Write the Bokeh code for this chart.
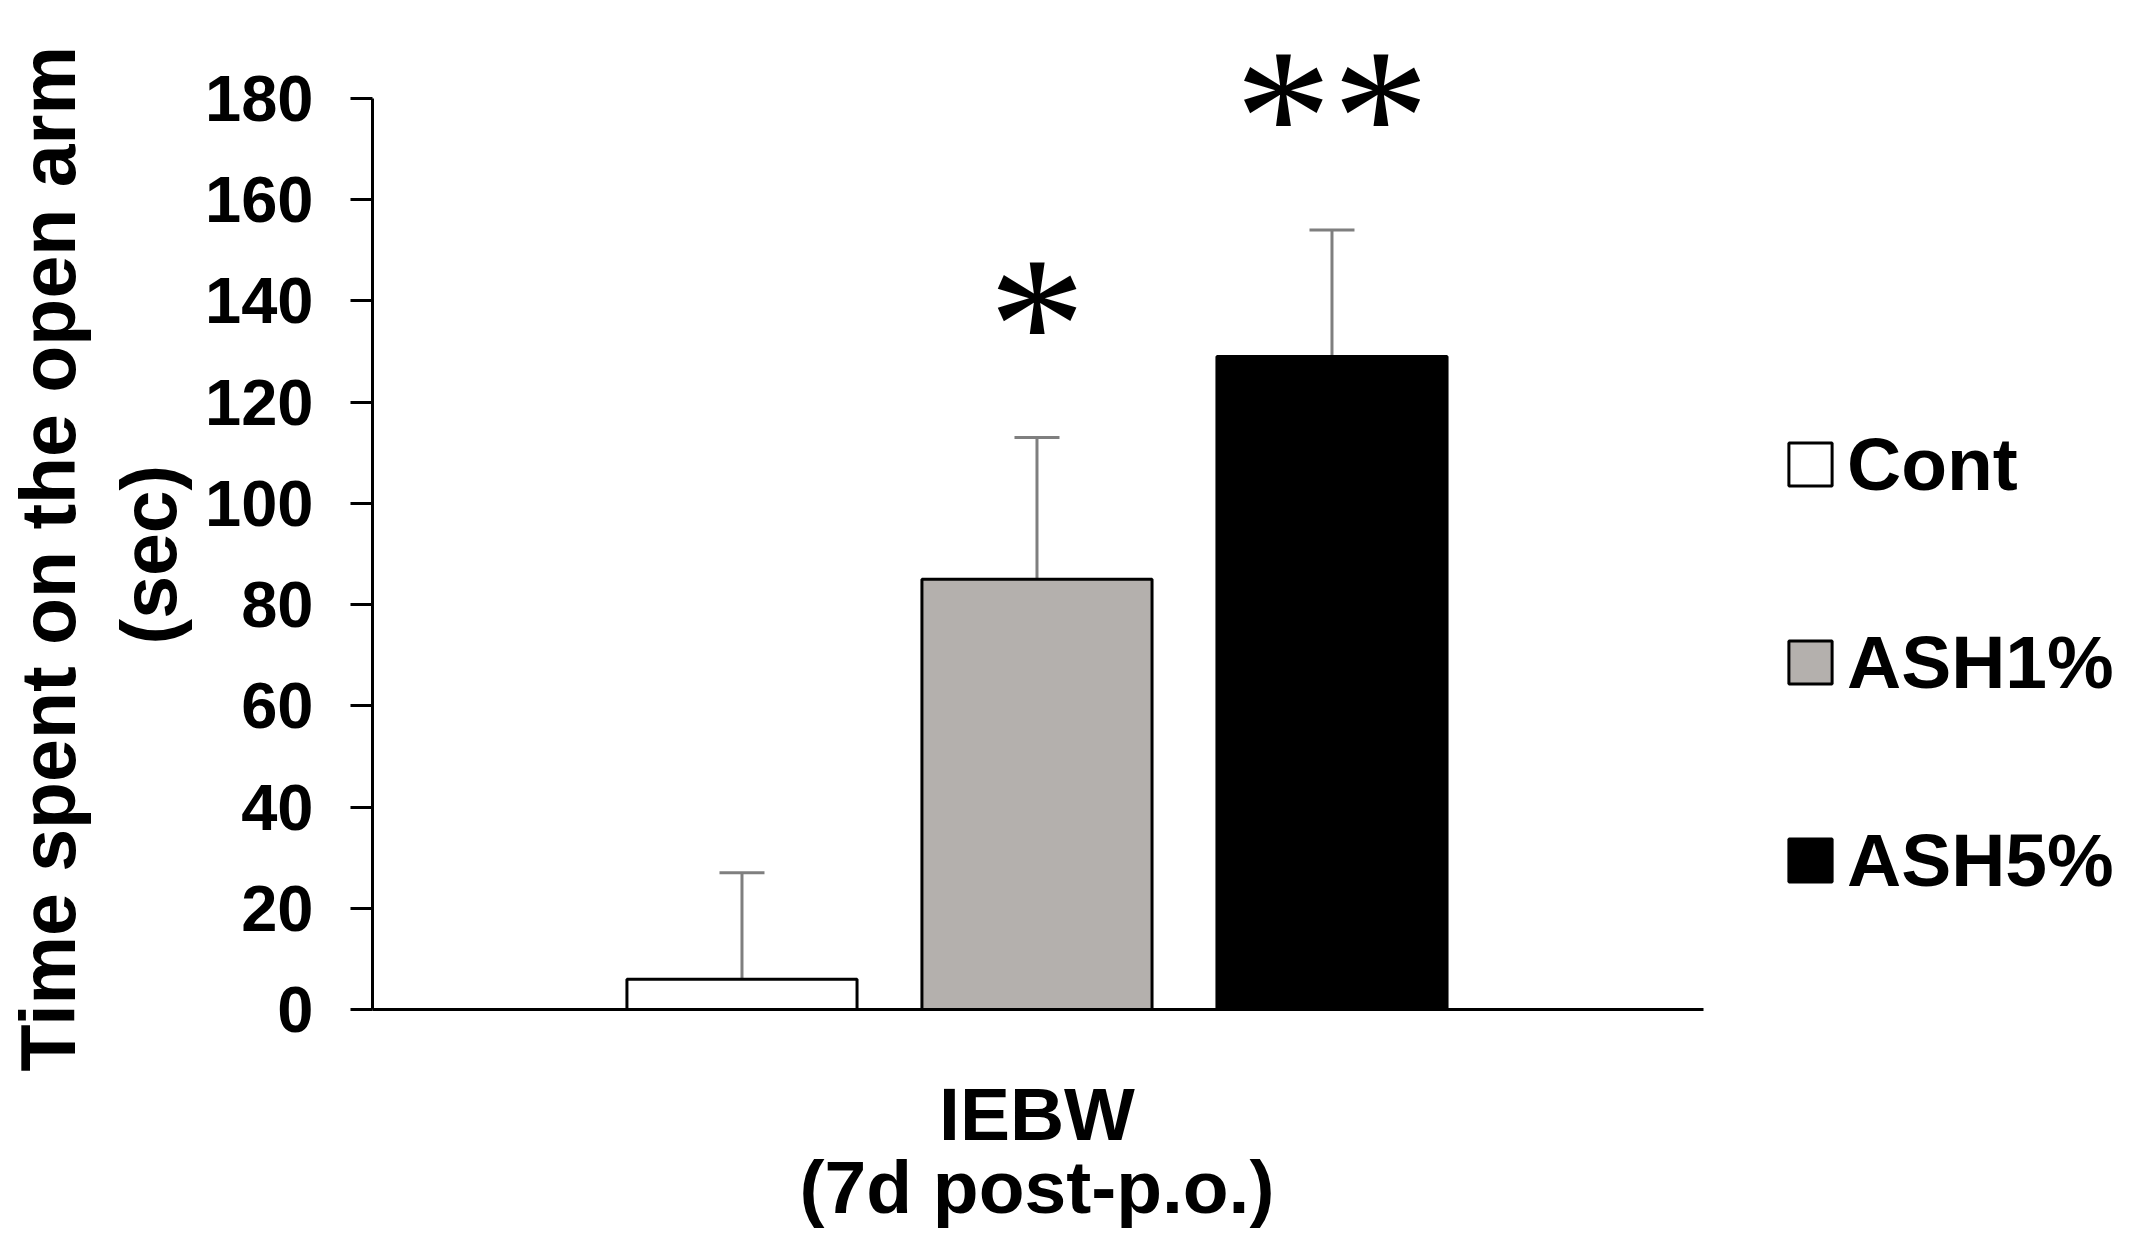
from bokeh.plotting import figure
from bokeh.models import (ColumnDataSource, Range1d, FixedTicker, Whisker, TeeHead,
                          Legend, LegendItem, LabelSet, Title)
from bokeh.embed import file_html
from bokeh.resources import INLINE

# ---- data ----
groups = ["Cont", "ASH1%", "ASH5%"]
means = [6, 85, 129]
sems = [21, 28, 25]
sig_marks = ["", "*", "**"]
fills = ["#ffffff", "#b4b0ad", "#000000"]
y_ticks = [0, 20, 40, 60, 80, 100, 120, 140, 160, 180]
x_label = "IEBW\n(7d post-p.o.)"
y_label_lines = ["Time spent on the open arm", "(sec)"]

FONT = "Liberation Sans"

xpos = list(range(len(groups)))
upper = [m + s for m, s in zip(means, sems)]
src = ColumnDataSource(dict(x=xpos, mean=means, upper=upper, fill=fills,
                            sig=sig_marks, group=groups))

X0, X1 = -1.2525, 3.2593
p = figure(frame_width=1752, frame_height=987, output_backend="svg", toolbar_location=None,
           x_range=Range1d(X0, X0 + 1752 / 295.0), y_range=Range1d(0, 195),
           min_border_left=300, min_border_right=0, min_border_top=22,
           min_border_bottom=225)
p.outline_line_color = None
p.grid.visible = False
p.background_fill_color = "white"

bars = p.vbar(x="x", top="mean", bottom=0, width=0.78, source=src,
              fill_color="fill", line_color="black", line_width=3)

wh = Whisker(source=src, base="x", lower="mean", upper="upper",
             line_color="#7f7f7f", line_width=3,
             upper_head=TeeHead(size=45, line_color="#7f7f7f", line_width=3),
             lower_head=None)
p.add_layout(wh)

stars = LabelSet(x="x", y="upper", text="sig", source=src,
                 text_font="Liberation Serif", text_font_size="195px",
                 text_align="center", text_baseline="alphabetic",
                 y_offset=48, text_color="black")
p.add_layout(stars)

# y axis
ya = p.yaxis[0]
ya.ticker = FixedTicker(ticks=y_ticks)
ya.bounds = (0, 180)
ya.axis_line_width = 3
ya.axis_line_color = "black"
ya.major_tick_line_width = 3
ya.major_tick_out = 22
ya.major_tick_in = 0
ya.minor_tick_line_color = None
ya.major_label_text_font = FONT
ya.major_label_text_font_style = "bold"
ya.major_label_text_font_size = "65px"
ya.major_label_text_color = "black"
ya.major_label_standoff = 37

# y-axis title, two lines (inner line first)
t_sec = Title(text=y_label_lines[1], align="left", offset=365, standoff=22,
              text_font=FONT, text_font_style="bold", text_font_size="77px",
              text_color="black")
t_main = Title(text=y_label_lines[0], align="left", offset=-62, standoff=4,
               text_font=FONT, text_font_style="bold", text_font_size="77px",
               text_color="black")
p.add_layout(t_sec, "left")
p.add_layout(t_main, "left")

# x axis (single category label under the group)
xa = p.xaxis[0]
xa.ticker = FixedTicker(ticks=[1])
xa.major_label_overrides = {1: x_label}
xa.bounds = (X0, X1)
xa.axis_line_width = 3
xa.axis_line_color = "black"
xa.major_tick_out = 0
xa.major_tick_in = 0
xa.major_tick_line_color = None
xa.minor_tick_line_color = None
xa.major_label_standoff = 62
xa.major_label_text_font = FONT
xa.major_label_text_font_style = "bold"
xa.major_label_text_font_size = "75px"
xa.major_label_text_color = "black"
xa.major_label_text_line_height = 0.88

items = [LegendItem(label=g, renderers=[bars], index=i) for i, g in enumerate(groups)]
legend = Legend(items=items, location=(1411, 106), orientation="vertical",
                glyph_width=54, glyph_height=54, label_height=54,
                label_standoff=10, spacing=112, padding=0, margin=0,
                label_text_font=FONT, label_text_font_style="bold",
                label_text_font_size="75px", label_text_color="black",
                border_line_color=None, background_fill_alpha=0)
p.add_layout(legend)

open("out.html", "w").write(file_html(p, INLINE))
